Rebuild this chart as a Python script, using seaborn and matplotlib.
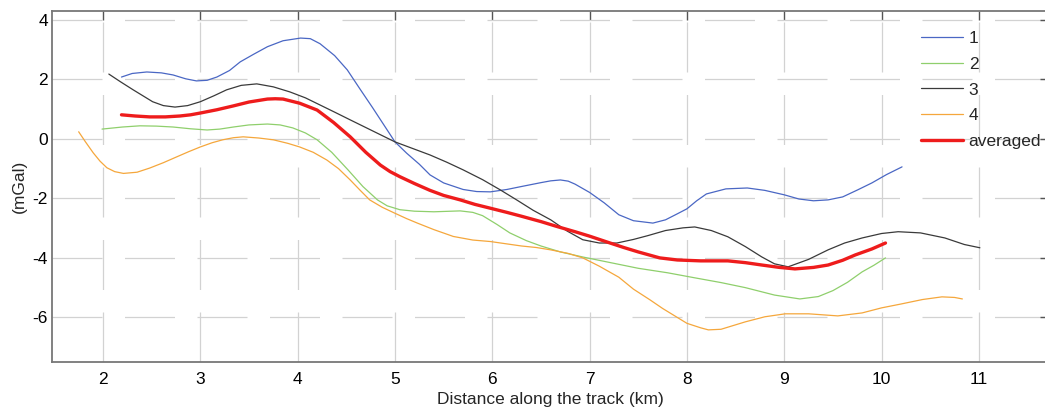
import numpy as np
import pandas as pd
import matplotlib
matplotlib.use("Agg")
import matplotlib.pyplot as plt
import seaborn as sns

# values
x1 = [2.19, 2.3, 2.45, 2.6, 2.72, 2.85, 2.96, 3.07, 3.17, 3.3, 3.41, 3.55, 3.69, 3.85, 4.03, 4.13, 4.23,
      4.38, 4.51, 4.64, 4.77, 4.88, 5.0, 5.12, 5.25, 5.36, 5.5, 5.7, 5.84, 5.98, 6.15, 6.3, 6.5, 6.6, 6.7,
      6.78, 6.85, 7.0, 7.15, 7.3, 7.45, 7.65, 7.78, 7.9, 8.0, 8.1, 8.2, 8.4, 8.62, 8.8, 9.0, 9.15, 9.3, 9.45,
      9.6, 9.75, 9.9, 10.05, 10.21]
y1 = [2.08, 2.2, 2.25, 2.22, 2.15, 2.02, 1.95, 1.97, 2.08, 2.3, 2.59, 2.85, 3.1, 3.3, 3.39, 3.37, 3.2,
      2.8, 2.32, 1.68, 1.05, 0.5, -0.1, -0.48, -0.85, -1.21, -1.48, -1.7, -1.77, -1.78, -1.7, -1.6, -1.47, -1.41, -1.38,
      -1.42, -1.52, -1.8, -2.15, -2.55, -2.75, -2.83, -2.72, -2.52, -2.35, -2.08, -1.85, -1.68, -1.65, -1.73, -1.88, -2.02, -2.08, -2.05,
      -1.95, -1.72, -1.48, -1.2, -0.94]

x2 = [1.99, 2.2, 2.38, 2.55, 2.72, 2.9, 3.07, 3.2, 3.34, 3.5, 3.69, 3.82, 3.95, 4.08, 4.2, 4.35, 4.52,
      4.67, 4.82, 4.92, 5.05, 5.2, 5.4, 5.67, 5.8, 5.9, 6.05, 6.18, 6.35, 6.5, 6.7, 6.93, 7.2, 7.5,
      7.8, 8.08, 8.35, 8.6, 8.9, 9.16, 9.35, 9.5, 9.65, 9.8, 9.92, 10.04]
y2 = [0.33, 0.4, 0.44, 0.43, 0.4, 0.34, 0.3, 0.33, 0.4, 0.47, 0.5, 0.47, 0.37, 0.2, -0.03, -0.45, -1.05,
      -1.6, -2.05, -2.25, -2.38, -2.43, -2.45, -2.42, -2.47, -2.58, -2.88, -3.16, -3.42, -3.6, -3.8, -3.97, -4.15, -4.35,
      -4.5, -4.67, -4.83, -5.0, -5.25, -5.38, -5.3, -5.1, -4.82, -4.47, -4.25, -4.0]

x3 = [2.06, 2.18, 2.31, 2.41, 2.51, 2.62, 2.74, 2.87, 3.0, 3.14, 3.27, 3.42, 3.58, 3.75, 3.92, 4.08, 4.23,
      4.38, 4.54, 4.77, 5.0, 5.18, 5.36, 5.53, 5.7, 5.9, 6.08, 6.25, 6.42, 6.6, 6.77, 6.93, 7.1, 7.28,
      7.45, 7.6, 7.78, 7.96, 8.08, 8.25, 8.42, 8.6, 8.77, 8.9, 9.04, 9.25, 9.45, 9.62, 9.8, 10.0, 10.17,
      10.4, 10.65, 10.85, 11.01]
y3 = [2.18, 1.92, 1.65, 1.45, 1.25, 1.12, 1.07, 1.12, 1.25, 1.45, 1.65, 1.8, 1.85, 1.75, 1.58, 1.38, 1.14,
      0.9, 0.64, 0.27, -0.1, -0.32, -0.54, -0.78, -1.04, -1.37, -1.71, -2.05, -2.4, -2.72, -3.1, -3.39, -3.5, -3.5,
      -3.38, -3.25, -3.08, -2.99, -2.96, -3.08, -3.29, -3.62, -3.97, -4.2, -4.3, -4.05, -3.73, -3.5, -3.33, -3.18, -3.12,
      -3.16, -3.33, -3.55, -3.66]

x4 = [1.75, 1.82, 1.9, 1.97, 2.04, 2.12, 2.21, 2.35, 2.48, 2.62, 2.76, 2.88, 3.0, 3.12, 3.23, 3.34, 3.44,
      3.6, 3.75, 3.9, 4.02, 4.16, 4.3, 4.42, 4.54, 4.64, 4.74, 4.87, 5.0, 5.12, 5.23, 5.4, 5.6, 5.8,
      5.98, 6.15, 6.3, 6.45, 6.6, 6.78, 6.93, 7.1, 7.3, 7.45, 7.62, 7.75, 7.85, 8.0, 8.14, 8.22, 8.35,
      8.5, 8.6, 8.8, 9.01, 9.25, 9.55, 9.8, 10.0, 10.2, 10.42, 10.62, 10.75, 10.83]
y4 = [0.24, -0.1, -0.47, -0.75, -0.97, -1.1, -1.16, -1.12, -0.98, -0.8, -0.6, -0.43, -0.27, -0.13, -0.03, 0.04, 0.07,
      0.03, -0.03, -0.15, -0.27, -0.45, -0.71, -1.0, -1.38, -1.72, -2.05, -2.3, -2.5, -2.68, -2.83, -3.05, -3.28, -3.4,
      -3.45, -3.53, -3.6, -3.65, -3.73, -3.85, -4.0, -4.28, -4.65, -5.05, -5.41, -5.7, -5.9, -6.2, -6.35, -6.42, -6.4,
      -6.25, -6.15, -5.98, -5.88, -5.88, -5.95, -5.85, -5.68, -5.55, -5.4, -5.31, -5.33, -5.38]

xa = [2.19, 2.33, 2.48, 2.64, 2.79, 2.9, 3.0, 3.17, 3.34, 3.5, 3.69, 3.77, 3.85, 4.02, 4.2, 4.37, 4.54,
      4.7, 4.85, 4.95, 5.05, 5.2, 5.36, 5.5, 5.67, 5.82, 5.98, 6.15, 6.3, 6.5, 6.67, 6.85, 7.0, 7.21, 7.35,
      7.5, 7.72, 7.9, 8.14, 8.42, 8.6, 8.77, 8.95, 9.11, 9.3, 9.45, 9.6, 9.73, 9.9, 10.04]
ya = [0.81, 0.77, 0.74, 0.74, 0.77, 0.81, 0.87, 0.98, 1.11, 1.24, 1.34, 1.35, 1.34, 1.2, 0.97, 0.55, 0.07,
      -0.45, -0.88, -1.1, -1.27, -1.5, -1.73, -1.9, -2.05, -2.2, -2.33, -2.47, -2.6, -2.78, -2.95, -3.12, -3.27, -3.5, -3.65,
      -3.8, -4.0, -4.07, -4.1, -4.1, -4.16, -4.24, -4.32, -4.37, -4.32, -4.24, -4.08, -3.9, -3.7, -3.5]

labels = ["1", "2", "3", "4", "averaged"]
colors = ["#4a67c4", "#8fcf6c", "#3a3a3a", "#f5a73c", "#ee1c1c"]
widths = [0.9, 0.9, 0.9, 0.9, 2.4]

x_ticks = list(range(2, 12))
y_ticks = [-6, -4, -2, 0, 2, 4]

sns.set_style("white")
plt.rcParams['font.family'] = ['Liberation Sans', 'DejaVu Sans']
plt.rcParams['axes.unicode_minus'] = False

fig = plt.figure(figsize=(10.45, 4.07), dpi=100)
ax = fig.add_axes([52 / 1045, 45 / 407, 997 / 1045, 351 / 407])

series = [(x1, y1), (x2, y2), (x3, y3), (x4, y4), (xa, ya)]
for (xs, ys), lab, col, lw in zip(series, labels, colors, widths):
    sns.lineplot(x=xs, y=ys, color=col, linewidth=lw, label=lab, sort=False, estimator=None, ax=ax)

ax.set_xlim(1.476, 11.72)
ax.set_ylim(-7.5, 4.3)
ax.set_xticks(x_ticks)
ax.set_yticks(y_ticks)
ax.grid(True, color="#d2d2d2", linewidth=0.9, linestyle=(0, (40, 18)))
ax.tick_params(direction="in", length=6.5, width=1, colors="#555555", labelcolor="black",
               labelsize=12.5, top=True, right=True, pad=3)
ax.tick_params(axis="x", pad=7)
for s in ax.spines.values():
    s.set_color("#777777")
    s.set_linewidth(1.3)

ax.set_xlabel("Distance along the track (km)", fontsize=12.5, labelpad=4)
ax.set_ylabel("(mGal)", fontsize=12.5, labelpad=4)

leg = ax.legend(loc="upper left", bbox_to_anchor=(862 / 997, 0.962), frameon=False, fontsize=12.5,
                handlelength=2.45, handletextpad=0.3, labelspacing=0.6, borderaxespad=0)

fig.savefig("out.png", dpi=100)
